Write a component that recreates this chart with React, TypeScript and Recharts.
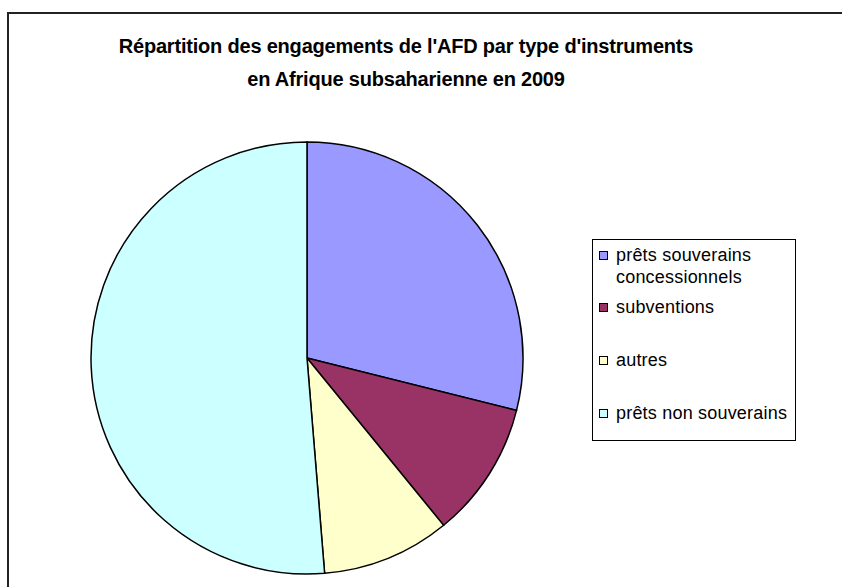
import { PieChart, Pie, Cell, Legend } from 'recharts'

const categories = ['prêts souverains concessionnels', 'subventions', 'autres', 'prêts non souverains']
const legendLines = [['prêts souverains', 'concessionnels'], ['subventions'], ['autres'], ['prêts non souverains']]
const shares = [28.9, 10.2, 9.6, 51.3]
const colors = ['#9999FF', '#993366', '#FFFFCC', '#CCFFFF']

const data = categories.map((name, i) => ({ name, value: shares[i] }))

const FONT = 'Arial, "Liberation Sans", Helvetica, sans-serif'
const rowHeights = [52, 53, 53, 30]

// legend drawn in category order, not the payload's
const LegendBox = () => (
  <div
    style={{
      border: '1px solid #000',
      width: 204,
      height: 202,
      boxSizing: 'border-box',
      background: '#fff',
      fontFamily: FONT,
      fontSize: 18,
      letterSpacing: 0.2,
      color: '#000',
      paddingTop: 4,
    }}
  >
    {categories.map((name, i) => (
      <div key={name} style={{ display: 'flex', alignItems: 'flex-start', marginLeft: 6, height: rowHeights[i] }}>
        <span
          style={{
            width: 7,
            height: 7,
            border: '1px solid #000',
            background: colors[i],
            marginTop: 7,
            marginRight: 8,
            flexShrink: 0,
          }}
        />
        <span style={{ lineHeight: '22px' }}>
          {legendLines[i].map((l, j) => (
            <div key={j}>{l}</div>
          ))}
        </span>
      </div>
    ))}
  </div>
)

export default function App() {
  return (
    <div style={{ position: 'absolute', left: 0, top: 0, width: 842, height: 587, overflow: 'hidden', background: '#fff' }}>
      <div
        style={{
          position: 'absolute',
          left: 7,
          top: 12,
          width: 860,
          height: 620,
          border: '2px solid #222',
          boxSizing: 'border-box',
        }}
      />
      <div
        style={{
          position: 'absolute',
          left: 0,
          width: 812,
          top: 30,
          textAlign: 'center',
          fontFamily: FONT,
          fontWeight: 'bold',
          fontSize: 20,
          letterSpacing: -0.2,
          lineHeight: '33px',
          color: '#000',
        }}
      >
        <div>Répartition des engagements de l'AFD par type d'instruments</div>
        <div>en Afrique subsaharienne en 2009</div>
      </div>
      <div style={{ position: 'absolute', left: 0, top: 0 }}>
        <PieChart width={842} height={587} margin={{ top: 0, right: 0, bottom: 0, left: 0 }}>
          <Pie
            data={data}
            dataKey="value"
            nameKey="name"
            cx={307}
            cy={358}
            outerRadius={216}
            startAngle={90}
            endAngle={-270}
            stroke="#000"
            strokeWidth={1.5}
            isAnimationActive={false}
          >
            {data.map((d, i) => (
              <Cell key={d.name} fill={colors[i]} />
            ))}
          </Pie>
          <Legend
            layout="vertical"
            content={<LegendBox />}
            wrapperStyle={{ left: 592, top: 239, width: 204, height: 202 }}
          />
        </PieChart>
      </div>
    </div>
  )
}
